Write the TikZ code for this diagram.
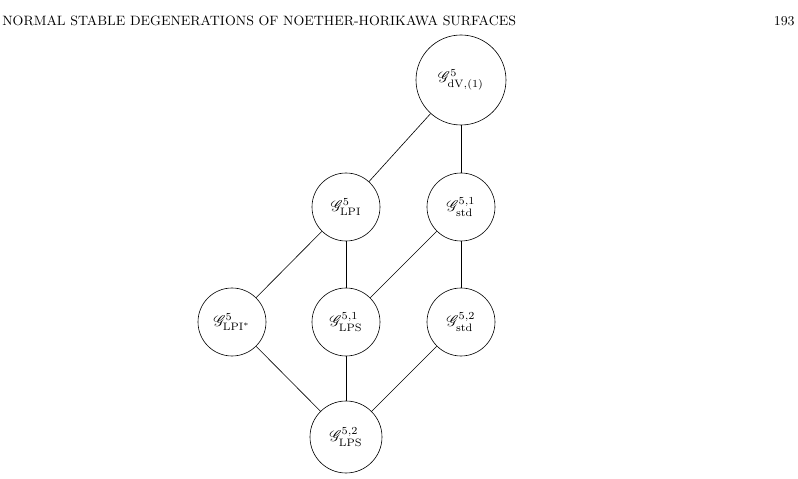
\documentclass[tikz,border=0pt]{standalone}
\usepackage{mathrsfs}
\begin{document}
\begin{tikzpicture}[x=0.65pt,y=-0.65pt,
  v/.style={circle,draw,inner sep=0pt,minimum size=#1*0.65pt}]
\useasboundingbox (0,0) rectangle (798,479);
\node[anchor=west,inner sep=0pt] (hd) at (2,21) {\fontsize{8.8}{10}\selectfont NORMAL STABLE DEGENERATIONS OF NOETHER-HORIKAWA SURFACES};
\node[anchor=east,inner sep=0pt] (pg) at (795,21) {\fontsize{8.8}{10}\selectfont 193};
\node[v=90] (a) at (461,80) {$\mathscr{G}^{5}_{\mathrm{dV},(1)}$};
\node[v=68] (b) at (346,207) {$\mathscr{G}^{5}_{\mathrm{LPI}}$};
\node[v=68] (c) at (461,207) {$\mathscr{G}^{5,1}_{\mathrm{std}}$};
\node[v=68] (d) at (232,322) {$\mathscr{G}^{5}_{\mathrm{LPI}^*}$};
\node[v=68] (f) at (346,322) {$\mathscr{G}^{5,1}_{\mathrm{LPS}}$};
\node[v=68] (g) at (461,322) {$\mathscr{G}^{5,2}_{\mathrm{std}}$};
\node[v=72] (h) at (346,437) {$\mathscr{G}^{5,2}_{\mathrm{LPS}}$};
\draw (a)--(b); \draw (a)--(c);
\draw (b)--(d); \draw (b)--(f); \draw (c)--(f); \draw (c)--(g);
\draw (d)--(h); \draw (f)--(h); \draw (g)--(h);
\end{tikzpicture}
\end{document}
